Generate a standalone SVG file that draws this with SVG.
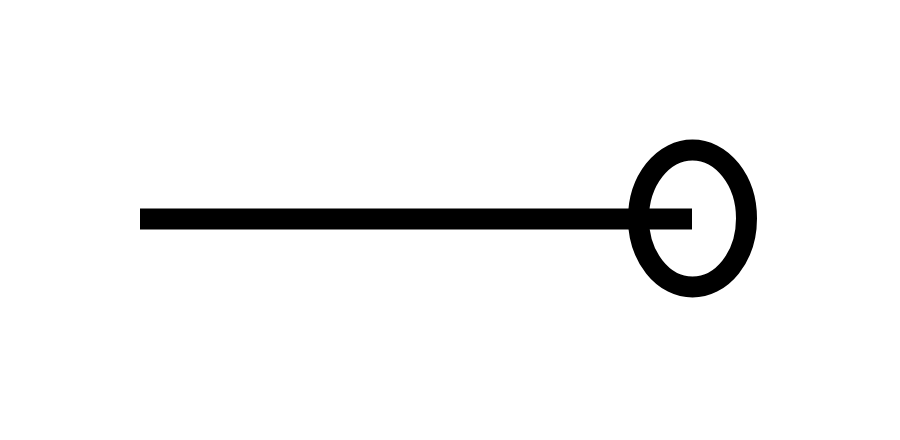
<svg xmlns="http://www.w3.org/2000/svg" width="900" height="440" viewBox="0 0 900 440">
  <style>
    .stroke { fill: none; stroke: #000; }
  </style>
  <rect width="900" height="440" fill="#fff"/>
  <g id="connectors">
    <line class="stroke" x1="140" y1="219" x2="692" y2="219" stroke-width="21"/>
  </g>
  <g id="node-circle">
    <ellipse class="stroke" cx="692.5" cy="218.5" rx="54" ry="68.5" stroke-width="21"/>
  </g>
</svg>
